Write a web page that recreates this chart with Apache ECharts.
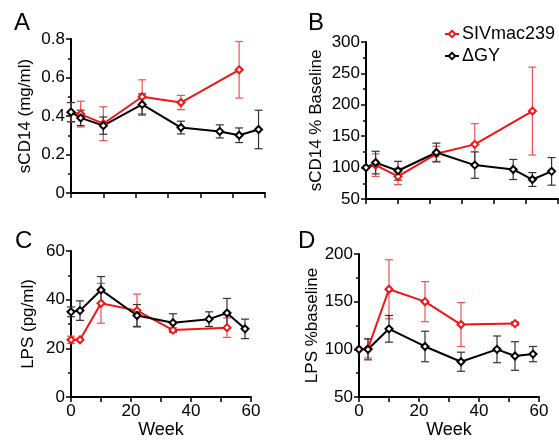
<!DOCTYPE html>
<html><head><meta charset="utf-8">
<script src="https://cdn.jsdelivr.net/npm/echarts@6/dist/echarts.min.js"></script>
<style>html,body{margin:0;padding:0;background:#fff}#c{width:559px;height:442px}</style>
</head><body><div id="c"></div>
<script>
// ---- data ----
const weeksDGY = [0, 3, 10, 22, 34, 46, 52, 58];
const weeksSIV = [0, 3, 10, 22, 34, 52];

const A_dgy = [0.42, 0.39, 0.35, 0.46, 0.34, 0.32, 0.30, 0.33];
const A_dgyErr = [0.05, 0.04, 0.045, 0.055, 0.033, 0.034, 0.038, 0.10];
const A_siv = [0.42, 0.41, 0.36, 0.50, 0.47, 0.64];
const A_sivErr = [0.05, 0.067, 0.088, 0.088, 0.037, 0.147];

const B_dgy = [100, 108, 95, 124, 104, 97, 81, 94];
const B_dgyErr = [0, 18, 15, 15, 21, 16, 11, 22];
const B_siv = [100, 104, 86, 122, 137, 190];
const B_sivErr = [0, 18, 13, 12, 33, 70];

const C_dgy = [35, 35.5, 44, 33.5, 30.5, 32, 34.5, 28];
const C_dgyErr = [2, 4, 5.5, 4.5, 3.7, 3, 6, 4];
const C_siv = [23.5, 23.5, 38.5, 35.5, 27.5, 28.5];
const C_sivErr = [1.5, 0, 8.2, 6.8, 1, 4];

const D_dgy = [100, 100, 121.5, 103, 87, 100, 93, 95];
const D_dgyErr = [0, 11, 14, 16, 10, 14, 15, 8];
const D_siv = [100, 101, 163, 150, 126, 127];
const D_sivErr = [0, 10, 31, 21, 23, 2];

const panelLetters = ['A', 'B', 'C', 'D'];
const yTitles = ['sCD14 (mg/ml)', 'sCD14 % Baseline', 'LPS (pg/ml)', 'LPS %baseline'];
const xTitle = 'Week';
const nameSIV = 'SIVmac239';
const nameDGY = '\u0394GY';

// ---- styling / layout ----
const RED = '#f01414', RED_ERR = '#f05050', BLK = '#000', BLK_ERR = '#333';
const FONT = 'Liberation Sans, Arial, sans-serif';

const grids = [
  {left: 71, top: 39, width: 194, height: 154},
  {left: 366, top: 42, width: 192, height: 157},
  {left: 71, top: 251, width: 180, height: 146},
  {left: 359, top: 254, width: 180, height: 143}
];
const yCfg = [
  {min: 0, max: 0.8, interval: 0.2, gap: 37, fmt: v => v === 0 ? '0' : v.toFixed(1)},
  {min: 50, max: 300, interval: 50, gap: 41, fmt: v => String(v)},
  {min: 0, max: 60, interval: 20, gap: 34, fmt: v => String(v)},
  {min: 50, max: 200, interval: 50, gap: 36, fmt: v => String(v)}
];
const letterPos = [[14, 11], [308, 11], [15, 229], [298, 229]];

const axisLine = {lineStyle: {color: '#000', width: 2}};
const xAxes = grids.map((g, i) => ({
  type: 'value', gridIndex: i, min: 0, max: 60, interval: 10,
  axisLine: Object.assign({onZero: false}, axisLine),
  axisTick: {show: true, length: 5, lineStyle: {color: '#000', width: 1.5}},
  splitLine: {show: false},
  axisLabel: i < 2 ? {show: false} : {
    show: true, color: '#000', fontSize: 17, fontFamily: FONT, margin: 6,
    formatter: v => (v % 20 === 0 ? String(v) : '')
  },
  name: i < 2 ? '' : xTitle, nameLocation: 'middle', nameGap: 22,
  nameTextStyle: {color: '#000', fontSize: 18, fontFamily: FONT}
}));
const yAxes = yCfg.map((c, i) => ({
  type: 'value', gridIndex: i, min: c.min, max: c.max, interval: c.interval,
  axisLine: Object.assign({show: true, onZero: false}, axisLine),
  axisTick: {show: true, length: 5, lineStyle: {color: '#000', width: 1.5}},
  minorTick: {show: true, splitNumber: 2, length: 3, lineStyle: {color: '#000', width: 1.5}},
  splitLine: {show: false},
  axisLabel: {color: '#000', fontSize: 17, fontFamily: FONT, margin: 6, formatter: c.fmt},
  name: yTitles[i], nameLocation: 'middle', nameGap: c.gap, nameRotate: 90,
  nameTextStyle: {color: '#000', fontSize: 17, fontFamily: FONT}
}));

function errSeries(idx, xs, ys, es, color) {
  return {
    type: 'custom', xAxisIndex: idx, yAxisIndex: idx, silent: true, z: 1,
    data: xs.map((x, k) => [x, ys[k], es[k]]),
    renderItem: function (params, api) {
      const x = api.value(0), y = api.value(1), e = api.value(2);
      if (!e) return null;
      const top = api.coord([x, y + e]);
      const bot = api.coord([x, y - e]);
      const w = 4;
      const st = {stroke: color, lineWidth: 1.2};
      return {type: 'group', children: [
        {type: 'line', shape: {x1: top[0], y1: top[1], x2: bot[0], y2: bot[1]}, style: st},
        {type: 'line', shape: {x1: top[0] - w, y1: top[1], x2: top[0] + w, y2: top[1]}, style: st},
        {type: 'line', shape: {x1: bot[0] - w, y1: bot[1], x2: bot[0] + w, y2: bot[1]}, style: st}
      ]};
    }
  };
}
function lineSeries(idx, name, xs, ys, color) {
  return {
    type: 'line', name: name, xAxisIndex: idx, yAxisIndex: idx, z: 3,
    data: xs.map((x, k) => [x, ys[k]]),
    symbol: 'emptyDiamond', symbolSize: 7, showSymbol: true,
    lineStyle: {color: color, width: 2},
    itemStyle: {color: color, borderColor: color, borderWidth: 1.2},
    emphasis: {disabled: true}, animation: false
  };
}

const panels = [
  [A_siv, A_sivErr, A_dgy, A_dgyErr],
  [B_siv, B_sivErr, B_dgy, B_dgyErr],
  [C_siv, C_sivErr, C_dgy, C_dgyErr],
  [D_siv, D_sivErr, D_dgy, D_dgyErr]
];
const series = [];
panels.forEach((p, i) => {
  series.push(errSeries(i, weeksSIV, p[0], p[1], RED_ERR));
  series.push(lineSeries(i, nameSIV, weeksSIV, p[0], RED));
  series.push(errSeries(i, weeksDGY, p[2], p[3], BLK_ERR));
  series.push(lineSeries(i, nameDGY, weeksDGY, p[2], BLK));
});

const chart = echarts.init(document.getElementById('c'), null, {renderer: 'canvas'});
chart.setOption({
  backgroundColor: '#fff',
  animation: false,
  title: panelLetters.map((t, i) => ({
    text: t, left: letterPos[i][0], top: letterPos[i][1], padding: 0,
    textStyle: {color: '#000', fontSize: 24, fontWeight: 'normal', fontFamily: FONT}
  })),
  legend: {
    data: [nameSIV, nameDGY], orient: 'vertical', left: 444, top: 25,
    itemWidth: 14, itemHeight: 8, itemGap: 4, padding: 0,
    textStyle: {color: '#000', fontSize: 18, fontFamily: FONT, padding: [0, 0, 0, -2]}
  },
  grid: grids,
  xAxis: xAxes,
  yAxis: yAxes,
  series: series
});
</script>
</body></html>
